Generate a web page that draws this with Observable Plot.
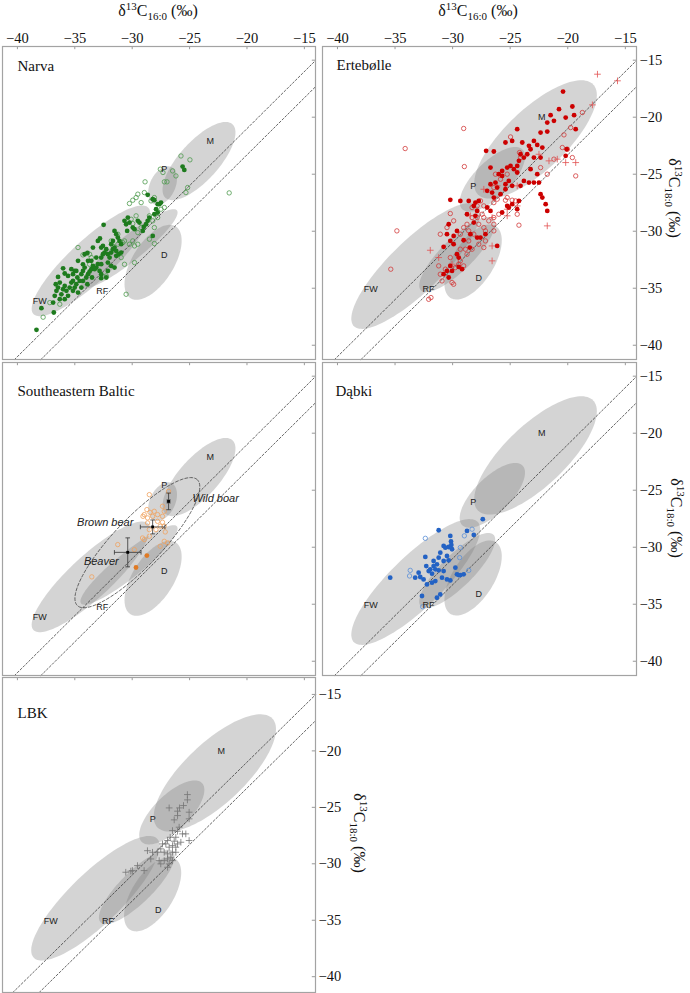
<!DOCTYPE html>
<html><head><meta charset="utf-8">
<script src="https://cdn.jsdelivr.net/npm/d3@7"></script>
<script src="https://cdn.jsdelivr.net/npm/@observablehq/plot@0.6"></script>
<style>
body{margin:0;background:#fff;}
#wrap{position:relative;width:690px;height:993px;overflow:hidden;background:#fff;}
#wrap svg{position:absolute;}
.ttl{position:absolute;font-family:"Liberation Serif","Times New Roman",Times,serif;font-size:16px;line-height:20px;white-space:nowrap;color:#111;}
.ttl sup,.ttl sub{font-size:11px;line-height:0;}
</style></head><body><div id="wrap"></div>
<script>
const SERIF = '"Liberation Serif", "Times New Roman", Times, serif';
const SANS = '"Liberation Sans", Arial, Helvetica, sans-serif';
// ---------- axes ----------
const xTicks = [-40, -35, -30, -25, -20, -15];
const yTicks = [-40, -35, -30, -25, -20, -15];
const refOffsets = [-1, -3.3];          // Δ13C reference lines
const xDomain = [-41.3, -14.03];
const yDomainMain = [-41.25, -13.8];
const yDomainLBK = [-41.4, -13.5];

// ---------- reference ellipses ----------
const ellNames = ["FW", "RF", "D", "P", "M"];
// set A (Narva, Southeastern Baltic)
const ellA_cx = [-33.6, -30.28, -28.18, -27.35, -24.18];
const ellA_cy = [-32.6, -31.55, -32.73, -26.0, -23.85];
const ellA_a = [6.84, 5.37, 3.71, 1.8, 4.35];
const ellA_b = [1.84, 1.1, 1.8, 1.1, 1.71];
const ellA_angle = [43, 39, 58, 65, 48];
const labA_x = [-38.05, -32.61, -27.2, -27.2, -23.2];
const labA_y = [-36.1, -35.23, -32.08, -24.56, -22.08];
// set B (Ertebølle, Dąbki, LBK)
const ellB_cx = [-33.2, -29.6, -28.22, -26.55, -22.8];
const ellB_cy = [-33.05, -32.05, -32.7, -25.45, -21.95];
const ellB_a = [7.53, 4.45, 3.71, 3.7, 6.95];
const ellB_b = [2.25, 1.4, 1.8, 1.55, 2.65];
const ellB_angle = [44.5, 45, 58, 45, 44];
const labB_x = [-37.1, -32.1, -27.73, -28.2, -22.25];
const labB_y = [-35.1, -35.12, -34.1, -26.05, -20.0];

// ---------- Narva ----------
const narvaFilled = [[-38.34,-38.65],[-37.91,-36.75],[-36.83,-37.13],[-36.89,-36.26],[-36.75,-35.67],[-36.6,-35.23],[-36.46,-34.94],[-36.66,-34.65],[-36.31,-34.5],[-36.17,-35.53],[-36.02,-35.09],[-35.88,-34.8],[-35.73,-35.23],[-35.59,-35.67],[-36.31,-35.96],[-35.88,-35.96],[-35.45,-34.94],[-35.3,-34.5],[-35.16,-35.23],[-35.01,-34.94],[-34.87,-34.65],[-34.72,-35.38],[-36.46,-34.01],[-36.02,-33.25],[-35.3,-33.33],[-35.16,-33.77],[-35.01,-33.48],[-34.78,-34.06],[-34.58,-34.36],[-34.43,-33.77],[-34.29,-33.48],[-34.14,-33.19],[-34.0,-34.06],[-33.85,-33.77],[-33.71,-33.54],[-33.56,-33.33],[-34.29,-34.36],[-33.91,-34.65],[-34.43,-34.94],[-34.14,-32.02],[-33.85,-32.6],[-33.56,-32.6],[-33.42,-33.04],[-33.13,-33.19],[-32.99,-32.89],[-32.84,-33.48],[-32.7,-33.77],[-33.13,-32.31],[-32.7,-32.31],[-32.55,-32.02],[-32.41,-31.87],[-32.26,-31.58],[-32.12,-32.02],[-31.97,-32.31],[-31.83,-31.87],[-31.68,-31.58],[-31.83,-31.14],[-31.68,-30.85],[-31.54,-31.43],[-31.39,-31.73],[-31.39,-32.16],[-31.19,-32.02],[-30.96,-31.87],[-32.12,-32.75],[-32.7,-32.89],[-32.81,-30.64],[-32.49,-29.44],[-30.67,-29.09],[-30.53,-29.39],[-30.44,-29.97],[-30.38,-28.8],[-30.24,-29.24],[-29.95,-29.68],[-29.8,-29.82],[-29.51,-29.09],[-29.37,-29.24],[-29.08,-29.97],[-28.99,-29.62],[-28.79,-29.39],[-28.65,-29.09],[-28.5,-28.8],[-28.21,-30.41],[-28.07,-28.51],[-27.92,-28.07],[-27.78,-27.63],[-27.63,-27.63],[-27.49,-27.49],[-27.78,-28.36],[-28.65,-26.81],[-28.21,-27.19],[-28.07,-27.28],[-25.61,-24.33],[-25.46,-24.62],[-30.96,-31.14],[-31.11,-30.85],[-31.25,-30.56],[-31.39,-30.26],[-31.54,-29.97],[-32.7,-31.43],[-32.55,-31.29],[-32.99,-30.85],[-33.42,-31.43],[-33.9,-31.9],[-34.29,-32.9],[-34.72,-32.6],[-33.27,-33.33],[-33.5,-34.06],[-35.59,-33.92],[-35.88,-33.71],[-35.16,-34.36],[-34.87,-33.48],[-32.12,-33.48],[-31.83,-33.04],[-31.54,-33.19],[-32.26,-34.06],[-32.7,-34.12]];
const narvaOpen = [[-37.76,-37.54],[-37.18,-36.26],[-36.31,-36.4],[-34.72,-31.43],[-33.71,-32.02],[-33.56,-32.31],[-32.26,-33.92],[-30.67,-32.9],[-29.8,-32.75],[-30.53,-35.53],[-31.25,-31.14],[-30.82,-31.0],[-30.67,-30.85],[-30.24,-31.14],[-29.95,-30.85],[-29.8,-31.29],[-29.51,-31.14],[-30.09,-28.95],[-29.95,-29.33],[-29.66,-28.65],[-29.51,-30.12],[-29.22,-29.68],[-28.5,-28.65],[-28.21,-29.09],[-27.78,-28.8],[-27.49,-28.07],[-27.2,-27.92],[-30.24,-27.57],[-29.95,-27.28],[-29.66,-27.05],[-29.51,-26.75],[-29.22,-27.49],[-28.94,-26.61],[-28.88,-25.67],[-28.36,-27.34],[-28.07,-27.05],[-27.55,-24.56],[-27.32,-24.85],[-27.2,-25.67],[-26.97,-25.67],[-26.48,-24.71],[-26.19,-25.15],[-25.75,-23.4],[-24.97,-23.74],[-25.32,-26.61],[-25.17,-26.17],[-21.55,-26.64],[-28.5,-30.7],[-28.07,-31.08],[-31.68,-31.29],[-34.29,-32.08],[-33.71,-32.9],[-31.83,-30.85],[-31.25,-30.26],[-30.96,-32.31],[-28.07,-29.68]];

// ---------- Ertebølle ----------
const ertFilled = [[-20.41,-17.75],[-20.76,-19.3],[-21.49,-19.82],[-21.78,-20.47],[-21.2,-20.32],[-19.6,-19.06],[-20.18,-20.03],[-19.45,-19.82],[-19.31,-21.05],[-20.09,-22.81],[-20.18,-23.39],[-21.78,-21.26],[-22.36,-21.35],[-22.94,-22.08],[-22.65,-22.43],[-22.21,-22.66],[-23.23,-22.81],[-23.37,-22.51],[-23.52,-23.25],[-23.81,-23.54],[-24.1,-23.25],[-24.24,-23.83],[-24.39,-24.27],[-22.94,-23.54],[-22.36,-23.54],[-24.39,-21.05],[-23.95,-22.22],[-24.83,-22.08],[-25.41,-22.22],[-26.42,-23.01],[-27.09,-22.95],[-26.71,-24.42],[-25.99,-25.0],[-25.7,-24.71],[-25.26,-24.42],[-24.97,-24.27],[-24.68,-24.56],[-24.39,-24.85],[-25.12,-25.59],[-25.41,-25.88],[-25.7,-25.15],[-26.28,-25.73],[-26.13,-26.17],[-26.57,-26.61],[-26.42,-27.05],[-26.71,-25.88],[-27.0,-26.46],[-25.84,-26.75],[-25.41,-26.32],[-24.83,-26.02],[-24.1,-26.02],[-23.81,-25.59],[-23.37,-25.73],[-23.23,-24.56],[-22.94,-25.73],[-22.65,-25.0],[-22.5,-25.73],[-22.36,-26.75],[-22.21,-27.05],[-21.92,-27.63],[-21.78,-28.22],[-24.24,-27.34],[-24.83,-27.63],[-25.26,-27.78],[-25.7,-28.36],[-25.12,-27.92],[-24.39,-28.07],[-26.71,-28.22],[-27.0,-27.92],[-27.73,-27.34],[-28.02,-27.49],[-28.6,-27.34],[-28.16,-27.78],[-27.87,-28.22],[-28.75,-28.51],[-28.02,-28.65],[-28.16,-29.24],[-27.87,-30.56],[-28.51,-31.43],[-29.33,-27.34],[-30.2,-27.25],[-30.34,-29.39],[-29.62,-29.97],[-29.91,-30.41],[-30.2,-30.85],[-30.78,-31.37],[-30.05,-33.48],[-30.2,-33.04],[-29.62,-32.02],[-29.47,-32.31],[-29.04,-30.79],[-28.46,-30.26],[-30.49,-30.26],[-29.91,-31.14],[-30.78,-33.77],[-30.34,-34.06],[-27.15,-30.26],[-27.58,-30.56],[-26.13,-31.29],[-30.49,-33.48],[-29.47,-33.13],[-29.18,-33.33]];
const ertOpen = [[-34.12,-22.75],[-29.04,-20.99],[-28.98,-24.33],[-24.97,-21.73],[-24.19,-23.1],[-24.1,-23.54],[-26.28,-25.0],[-25.84,-25.44],[-26.42,-26.17],[-25.26,-25.0],[-26.13,-27.19],[-25.26,-27.05],[-24.83,-27.28],[-24.54,-27.34],[-24.39,-28.51],[-25.41,-27.28],[-26.42,-27.49],[-26.42,-28.8],[-25.99,-28.51],[-27.58,-27.34],[-27.29,-27.78],[-27.87,-27.78],[-27.44,-28.51],[-27.87,-28.8],[-27.29,-28.8],[-27.73,-29.39],[-27.29,-29.68],[-27.15,-29.97],[-26.86,-29.09],[-26.42,-29.39],[-28.31,-27.92],[-28.31,-28.8],[-28.75,-29.39],[-29.04,-29.68],[-29.33,-30.26],[-28.6,-29.97],[-28.16,-30.26],[-28.6,-30.85],[-27.73,-31.14],[-27.29,-31.43],[-28.31,-31.58],[-28.75,-32.02],[-29.33,-32.6],[-29.47,-32.89],[-29.76,-33.19],[-30.2,-32.31],[-29.04,-33.04],[-30.63,-33.33],[-31.07,-33.77],[-30.92,-34.36],[-30.05,-34.5],[-29.91,-34.65],[-30.2,-28.45],[-29.91,-29.09],[-30.49,-29.68],[-31.07,-30.26],[-31.21,-33.04],[-29.33,-31.58],[-28.89,-31.58],[-24.24,-29.47],[-26.42,-29.97],[-27.15,-30.85],[-34.84,-29.97],[-35.37,-33.33],[-32.08,-35.97],[-31.88,-35.82],[-19.6,-23.54],[-20.03,-22.81],[-20.47,-22.66],[-21.2,-23.68],[-20.33,-21.55],[-18.73,-19.59],[-19.31,-25.15],[-19.75,-20.91],[-22.36,-24.42],[-21.78,-25.0]];
const ertPlus = [[-17.42,-16.23],[-15.68,-16.81],[-17.86,-18.92],[-19.31,-23.98],[-20.91,-23.68],[-21.63,-23.83],[-21.78,-29.53],[-27.29,-26.32],[-26.13,-26.02],[-26.57,-28.8],[-31.94,-31.67],[-31.21,-32.31],[-30.05,-32.89],[-26.57,-31.29],[-26.57,-32.6],[-24.39,-26.02],[-25.26,-28.07],[-22.5,-23.25],[-20.18,-23.98],[-28.46,-28.65],[-25.26,-28.65],[-24.39,-27.78]];

// ---------- Southeastern Baltic ----------
const sebOpen = [[-28.51,-25.39],[-26.83,-25.1],[-28.72,-26.7],[-28.45,-26.94],[-28.95,-27.14],[-29.06,-27.29],[-28.66,-27.43],[-28.22,-27.29],[-27.79,-27.14],[-27.36,-27.29],[-27.21,-26.85],[-27.79,-27.73],[-27.36,-27.81],[-27.56,-28.16],[-27.21,-28.16],[-28.66,-27.87],[-28.51,-28.46],[-27.93,-28.46],[-27.12,-28.66],[-29.1,-29.19],[-28.95,-29.33],[-28.51,-29.04],[-31.26,-29.77],[-29.81,-30.21],[-27.56,-29.92],[-27.21,-29.48],[-26.92,-29.62],[-33.52,-32.6],[-27.36,-26.41],[-28.08,-26.85]];
const sebFilled = [[-28.72,-30.73],[-29.67,-31.78]];
const sebEllipse = {cx: -29.55, cy: -29.6, a: 7.6, b: 2.1, angle: 46.6};
const barNames = ["Wild boar", "Brown bear", "Beaver"];
const barMeanX = [-26.83, -28.22, -30.39];
const barMeanY = [-25.98, -28.22, -30.45];
const barSdX = [0.12, 1.07, 1.16];
const barSdY = [0.73, 0.61, 1.27];
const barLabelX = [-24.75, -29.9, -34.21];
const barLabelY = [-25.74, -27.87, -31.23];
const barLabelAnchor = ["start", "end", "start"];

// ---------- Dąbki ----------
const dabFilled = [[-35.42,-32.67],[-33.25,-32.67],[-32.37,-30.85],[-31.21,-28.51],[-30.2,-29.01],[-30.14,-29.5],[-30.11,-29.8],[-30.05,-30.18],[-30.34,-29.98],[-30.78,-29.89],[-30.63,-30.04],[-31.07,-30.48],[-31.21,-30.92],[-31.36,-31.5],[-31.65,-31.65],[-31.94,-31.94],[-32.08,-32.09],[-31.79,-32.32],[-31.5,-31.94],[-31.21,-32.03],[-30.78,-31.21],[-29.76,-31.79],[-29.62,-32.38],[-29.47,-32.44],[-30.2,-32.91],[-30.49,-32.82],[-30.92,-32.67],[-31.5,-32.97],[-31.79,-33.11],[-32.23,-33.26],[-32.52,-32.82],[-32.81,-32.61],[-32.95,-32.23],[-32.66,-34.28],[-31.36,-34.43],[-31.07,-34.14],[-29.33,-32.44],[-29.04,-32.38],[-28.75,-28.57],[-28.16,-28.92],[-27.38,-27.54],[-31.65,-31.21],[-32.29,-31.65],[-30.34,-31.15],[-30.78,-32.09],[-30.49,-30.77]];
const dabOpen = [[-32.37,-29.22],[-33.68,-32.03],[-33.74,-32.52],[-32.6,-35.22],[-29.33,-30.03],[-29.39,-30.91],[-28.98,-29.0],[-28.31,-28.42],[-28.6,-32.03]];

// ---------- LBK ----------
const lbkPlus = [[-25.19,-23.87],[-25.19,-24.34],[-25.53,-24.84],[-25.88,-25.05],[-26.05,-25.34],[-26.05,-25.73],[-26.34,-26.11],[-26.78,-25.05],[-25.04,-25.43],[-25.04,-26.02],[-25.91,-26.76],[-26.49,-27.06],[-26.05,-27.12],[-25.62,-27.35],[-26.2,-27.65],[-26.69,-27.65],[-26.92,-27.94],[-26.34,-28.0],[-25.33,-27.35],[-25.04,-27.94],[-25.76,-28.09],[-26.05,-28.24],[-26.49,-28.39],[-26.78,-28.53],[-27.07,-28.24],[-27.36,-28.24],[-27.51,-28.68],[-27.21,-28.98],[-26.92,-29.12],[-26.49,-28.98],[-26.2,-28.98],[-26.63,-29.42],[-26.92,-29.57],[-27.21,-29.72],[-27.65,-29.72],[-26.49,-29.72],[-26.78,-30.01],[-26.92,-30.31],[-27.51,-30.01],[-27.8,-28.98],[-28.23,-28.98],[-28.67,-28.84],[-28.38,-29.57],[-28.96,-30.6],[-29.54,-30.16],[-29.98,-30.6],[-30.56,-30.75],[-30.12,-30.65],[-26.2,-28.53]];

// ---------- helpers ----------
function ellipsePoints(cx, cy, a, b, deg, key) {
  const t = deg * Math.PI / 180;
  return d3.range(0, 360, 3).map(k => {
    const u = k * Math.PI / 180, ex = a * Math.cos(u), ey = b * Math.sin(u);
    return {key, x: cx + ex * Math.cos(t) - ey * Math.sin(t), y: cy + ex * Math.sin(t) + ey * Math.cos(t)};
  });
}
const setA = {cx: ellA_cx, cy: ellA_cy, a: ellA_a, b: ellA_b, angle: ellA_angle, lx: labA_x, ly: labA_y};
const setB = {cx: ellB_cx, cy: ellB_cy, a: ellB_a, b: ellB_b, angle: ellB_angle, lx: labB_x, ly: labB_y};
function ellipses(s) {
  return ellNames.flatMap((n, i) => ellipsePoints(s.cx[i], s.cy[i], s.a[i], s.b[i], s.angle[i], n));
}
function labels(s) { return ellNames.map((n, i) => ({n, x: s.lx[i], y: s.ly[i]})); }
function refData(yDom) {
  const [x0, x1] = xDomain, [y0, y1] = yDom;
  return refOffsets.flatMap(o => {
    const xa = Math.max(x0, y0 - o), xb = Math.min(x1, y1 - o);
    return [{o, x: xa, y: xa + o}, {o, x: xb, y: xb + o}];
  });
}
const P = d => d[0], Q = d => d[1];
const wrap = document.getElementById("wrap");

function panel(cfg) {
  const {left, top, w, h, yDom, title, tdx, tbase, set, layers, topLabels, rightLabels} = cfg;
  const mL = 2, mB = 2, mT = topLabels ? 32 : 2, mR = rightLabels ? 34 : 3;
  const tkY = 3.2 * (yDom[1] - yDom[0]) / h, tkX = 3.2 * (xDomain[1] - xDomain[0]) / w;
  const marks = [
    Plot.line(ellipses(set), {x: "x", y: "y", z: "key", fill: "#7c7c7c", fillOpacity: 0.33, stroke: "none", curve: "linear-closed"}),
    Plot.line(refData(yDom), {x: "x", y: "y", z: "o", stroke: "#333", strokeWidth: 0.75, strokeDasharray: "2,2"}),
    ...layers,
    Plot.text(labels(set), {x: "x", y: "y", text: "n", fontFamily: SANS, fontSize: 9, fill: "#222"}),
    Plot.ruleX(xTicks, {x: d => d, y1: yDom[1], y2: yDom[1] - tkY, stroke: "#999", strokeWidth: 1}),
    Plot.ruleY(yTicks, {y: d => d, x1: xDomain[1] - tkX, x2: xDomain[1], stroke: "#999", strokeWidth: 1}),
    Plot.frame({stroke: "#a3a3a3", strokeWidth: 1.2}),
    Plot.text([title], {frameAnchor: "top-left", text: d => d, dx: tdx, dy: tbase - 10.65, textAnchor: "start", lineAnchor: "top", fontFamily: SERIF, fontSize: 15, fill: "#111"})
  ];
  if (topLabels) marks.push(Plot.axisX(xTicks, {anchor: "top", tickSize: 0, tickPadding: 4, label: null, fontSize: 14.5, fontFamily: SERIF, fill: "#111"}));
  if (rightLabels) marks.push(Plot.axisY(yTicks, {anchor: "right", tickSize: 0, tickPadding: 3, label: null, fontSize: 14.5, fontFamily: SERIF, fill: "#111"}));
  const svg = Plot.plot({
    width: w + mL + mR, height: h + mT + mB,
    marginLeft: mL, marginRight: mR, marginTop: mT, marginBottom: mB,
    x: {domain: xDomain, axis: null}, y: {domain: yDom, axis: null},
    style: {background: "transparent", overflow: "visible", fontSize: "14px", color: "#111"},
    marks
  });
  svg.setAttribute("font-family", SERIF);
  svg.style.fontFamily = SERIF;
  svg.style.left = (left - mL) + "px";
  svg.style.top = (top - mT) + "px";
  wrap.appendChild(svg);
}

// ---------- layers ----------
const narvaLayers = [
  Plot.dot(narvaOpen, {x: P, y: Q, r: 2.2, stroke: "#4e9a4e", strokeWidth: 0.8, fill: "none"}),
  Plot.dot(narvaFilled, {x: P, y: Q, r: 2.4, fill: "#1e7b1e", stroke: "none"})
];
const ertLayers = [
  Plot.dot(ertOpen, {x: P, y: Q, r: 2.2, stroke: "#d23a3a", strokeWidth: 0.8, fill: "none"}),
  Plot.dot(ertPlus, {x: P, y: Q, r: 2.3, symbol: "plus", stroke: "#e25050", strokeWidth: 0.8}),
  Plot.dot(ertFilled, {x: P, y: Q, r: 2.4, fill: "#cc0000", stroke: "none"})
];
const bars = barNames.map((n, i) => ({n, x: barMeanX[i], y: barMeanY[i], sx: barSdX[i], sy: barSdY[i], lx: barLabelX[i], ly: barLabelY[i], anchor: barLabelAnchor[i]}));
const capX = 0.2, capY = 0.2;
const caps = bars.flatMap(b => [
  {x1: b.x - b.sx, x2: b.x - b.sx, y1: b.y - capY, y2: b.y + capY},
  {x1: b.x + b.sx, x2: b.x + b.sx, y1: b.y - capY, y2: b.y + capY},
  {x1: b.x - capX, x2: b.x + capX, y1: b.y - b.sy, y2: b.y - b.sy},
  {x1: b.x - capX, x2: b.x + capX, y1: b.y + b.sy, y2: b.y + b.sy}
]);
const sebLayers = [
  Plot.line(ellipsePoints(sebEllipse.cx, sebEllipse.cy, sebEllipse.a, sebEllipse.b, sebEllipse.angle, "wild"), {x: "x", y: "y", stroke: "#444", strokeWidth: 0.8, strokeDasharray: "3,2", fill: "none", curve: "linear-closed"}),
  Plot.dot(sebOpen, {x: P, y: Q, r: 2.2, stroke: "#f0a25e", strokeWidth: 0.8, fill: "none"}),
  Plot.dot(sebFilled, {x: P, y: Q, r: 2.4, fill: "#e07a24", stroke: "none"}),
  Plot.link(bars, {x1: d => d.x - d.sx, x2: d => d.x + d.sx, y1: "y", y2: "y", stroke: "#333", strokeWidth: 0.8}),
  Plot.link(bars, {x1: "x", x2: "x", y1: d => d.y - d.sy, y2: d => d.y + d.sy, stroke: "#333", strokeWidth: 0.8}),
  Plot.link(caps, {x1: "x1", x2: "x2", y1: "y1", y2: "y2", stroke: "#333", strokeWidth: 0.8}),
  Plot.dot(bars, {x: "x", y: "y", r: 1.6, symbol: "square", fill: "#000"}),
  Plot.text(bars.filter(d => d.anchor === "start"), {x: "lx", y: "ly", text: "n", textAnchor: "start", fontFamily: SANS, fontStyle: "italic", fontSize: 11, fill: "#222"}),
  Plot.text(bars.filter(d => d.anchor === "end"), {x: "lx", y: "ly", text: "n", textAnchor: "end", fontFamily: SANS, fontStyle: "italic", fontSize: 11, fill: "#222"})
];
const dabLayers = [
  Plot.dot(dabOpen, {x: P, y: Q, r: 2.2, stroke: "#5a8fd8", strokeWidth: 0.8, fill: "none"}),
  Plot.dot(dabFilled, {x: P, y: Q, r: 2.4, fill: "#2362c4", stroke: "none"})
];
const lbkLayers = [
  Plot.dot(lbkPlus, {x: P, y: Q, r: 2.3, symbol: "plus", stroke: "#757575", strokeWidth: 0.8})
];

panel({left: 2, top: 46, w: 313, h: 313, yDom: yDomainMain, title: "Narva", tdx: 15, tbase: 24, set: setA, layers: narvaLayers, topLabels: true, rightLabels: false});
panel({left: 322, top: 46, w: 314, h: 313, yDom: yDomainMain, title: "Ertebølle", tdx: 14, tbase: 23, set: setB, layers: ertLayers, topLabels: true, rightLabels: true});
panel({left: 2, top: 362, w: 313, h: 313, yDom: yDomainMain, title: "Southeastern Baltic", tdx: 15, tbase: 33, set: setA, layers: sebLayers, topLabels: false, rightLabels: false});
panel({left: 322, top: 362, w: 314, h: 313, yDom: yDomainMain, title: "Dąbki", tdx: 13, tbase: 33, set: setB, layers: dabLayers, topLabels: false, rightLabels: true});
panel({left: 2, top: 677, w: 313, h: 315, yDom: yDomainLBK, title: "LBK", tdx: 15, tbase: 40, set: setB, layers: lbkLayers, topLabels: false, rightLabels: true});

// ---------- axis titles ----------
const xTitle = 'δ<sup>13</sup>C<sub>16:0</sub> (‰)';
const yTitle = 'δ<sup>13</sup>C<sub>18:0</sub> (‰)';
[[158, 1], [478, 1]].forEach(([cx, t]) => {
  const d = document.createElement("div");
  d.className = "ttl"; d.innerHTML = xTitle;
  d.style.left = cx + "px"; d.style.top = t + "px"; d.style.transform = "translateX(-50%)";
  wrap.appendChild(d);
});
[[674, 198], [676, 518], [359, 833]].forEach(([cx, cy]) => {
  const d = document.createElement("div");
  d.className = "ttl"; d.innerHTML = yTitle;
  d.style.left = cx + "px"; d.style.top = cy + "px"; d.style.transform = "translate(-50%,-50%) rotate(90deg)";
  wrap.appendChild(d);
});
</script></body></html>
